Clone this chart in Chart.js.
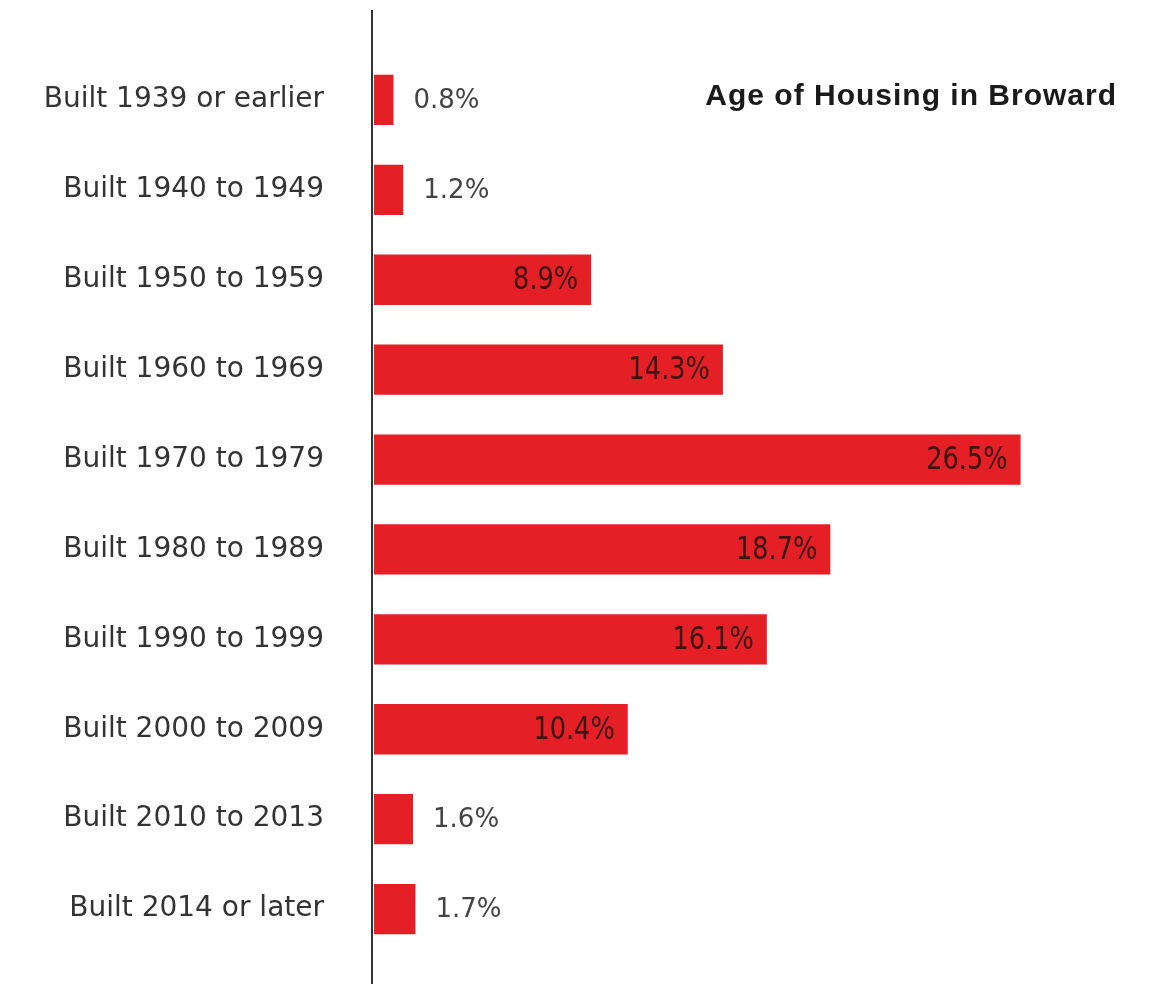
<!DOCTYPE html>
<html>
<head>
<meta charset="utf-8">
<script src="https://cdn.jsdelivr.net/npm/chart.js@4.4.1/dist/chart.umd.min.js"></script>
<style>
  html, body { margin: 0; padding: 0; background: #fff; }
  #wrap { width: 1150px; height: 984px; }
</style>
</head>
<body>
<div id="wrap"><canvas id="ageChart"></canvas></div>
<script>
const categories = [
    'Built 1939 or earlier',
    'Built 1940 to 1949',
    'Built 1950 to 1959',
    'Built 1960 to 1969',
    'Built 1970 to 1979',
    'Built 1980 to 1989',
    'Built 1990 to 1999',
    'Built 2000 to 2009',
    'Built 2010 to 2013',
    'Built 2014 or later'
];
const shares = [0.8, 1.2, 8.9, 14.3, 26.5, 18.7, 16.1, 10.4, 1.6, 1.7];
const chartTitle = 'Age of Housing in Broward';

const barRed = '#e41f26';

// value text: outside the bar when short, inside near the end when long
const valueLabels = {
    id: 'valueLabels',
    afterDatasetsDraw(chart) {
        const ctx = chart.ctx;
        const meta = chart.getDatasetMeta(0);
        meta.data.forEach((bar, i) => {
            const text = shares[i].toFixed(1) + '%';
            ctx.save();
            ctx.textBaseline = 'middle';
            if (shares[i] < 5) {
                ctx.font = '26px "DejaVu Sans"';
                ctx.fillStyle = '#444';
                ctx.textAlign = 'left';
                ctx.fillText(text, bar.x + 20, bar.y + 1);
            } else {
                // narrow, tall digits inside the bar
                ctx.font = '32px "DejaVu Sans Condensed"';
                ctx.fillStyle = '#3b1414';
                ctx.textAlign = 'right';
                ctx.translate(bar.x - 13, bar.y + 1);
                ctx.scale(0.89, 1);
                ctx.fillText(text, 0, 0);
            }
            ctx.restore();
        });
    }
};

// long vertical axis line and the heading
const decorations = {
    id: 'decorations',
    afterDraw(chart) {
        const ctx = chart.ctx;
        const x0 = chart.scales.x.getPixelForValue(0) - 2;
        ctx.save();
        ctx.strokeStyle = '#333';
        ctx.lineWidth = 2;
        ctx.beginPath();
        ctx.moveTo(x0, 10);
        ctx.lineTo(x0, chart.height);
        ctx.stroke();

        ctx.font = 'bold 30px Arial, "Liberation Sans", sans-serif';
        ctx.letterSpacing = '1px';
        ctx.fillStyle = '#1a1a1a';
        ctx.textAlign = 'right';
        ctx.textBaseline = 'middle';
        ctx.fillText(chartTitle, 1117, 97);
        ctx.restore();
    }
};

new Chart(document.getElementById('ageChart'), {
    type: 'bar',
    data: {
        labels: categories,
        datasets: [{
            data: shares,
            backgroundColor: barRed,
            borderWidth: 0,
            barPercentage: 0.56,
            categoryPercentage: 1
        }]
    },
    options: {
        indexAxis: 'y',
        responsive: true,
        maintainAspectRatio: false,
        animation: false,
        layout: { padding: { top: 55, bottom: 30, right: 44, left: 0 } },
        plugins: {
            legend: { display: false },
            tooltip: { enabled: false }
        },
        scales: {
            x: {
                display: false,
                min: 0,
                max: 30
            },
            y: {
                grid: { display: false, drawTicks: true, tickLength: 50 },
                border: { display: false },
                ticks: {
                    color: '#333',
                    padding: 0,
                    font: { family: 'DejaVu Sans', size: 28 }
                },
                afterFit(scale) { scale.width = 374; }
            }
        }
    },
    plugins: [valueLabels, decorations]
});
</script>
</body>
</html>
